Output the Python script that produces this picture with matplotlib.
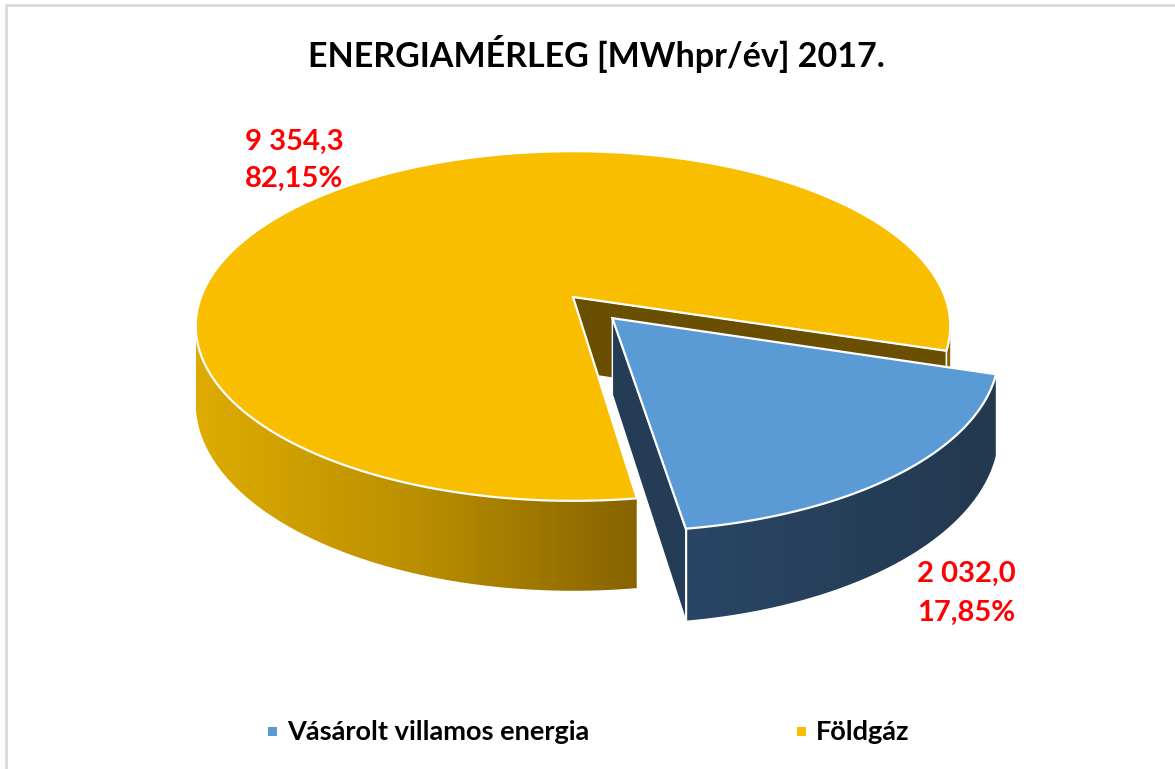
import numpy as np
import matplotlib
matplotlib.use('Agg')
import matplotlib.pyplot as plt
from matplotlib.patches import Polygon, Rectangle
from matplotlib.colors import to_rgb

# data
categories = ['Vásárolt villamos energia', 'Földgáz']
values = [2032.0, 9354.3]
top_colors = ['#5B9BD5', '#F9BE00']
cut_colors = ['#243C56', '#6B4F00']
side_colors = [['#2A4665', '#22394F'], ['#DEAC00', '#BA8F00', '#876300']]
explode = [0.16, 0.0]
title = 'ENERGIAMÉRLEG [MWhpr/év] 2017.'

# 3d pie geometry (pixel space)
start_angle = -17.5
cx, cy = 573, 297
A, B, k, H = 372, 170, 0.166, 75
cam = np.array([0.0, -1.0 / k])


def proj(X, D, h=0.0):
    w = 1 + k * D
    return cx + A * X / w, cy - B * D / w + h * H / w


def fmt_val(v):
    return f'{v:,.1f}'.replace(',', ' ').replace('.', ',')


def grad_img(stops, n=256):
    cols = [np.array(to_rgb(c)) for c in stops]
    pos = np.linspace(0, 1, len(cols))
    t = np.linspace(0, 1, n)
    row = np.stack([np.interp(t, pos, [c[j] for c in cols]) for j in range(3)], axis=1)
    return row[np.newaxis, :, :]


def runs(mask):
    out, cur = [], []
    for j, m in enumerate(mask):
        if m:
            cur.append(j)
        elif cur:
            out.append(cur)
            cur = []
    if cur:
        out.append(cur)
    return out


def draw_slice(ax, t_ccw, t_cw, ex, i):
    mid = np.radians((t_ccw + t_cw) / 2)
    o = np.array([np.cos(mid), np.sin(mid)]) * ex
    ts = np.radians(np.linspace(t_cw, t_ccw, 400))
    rim = np.stack([o[0] + np.cos(ts), o[1] + np.sin(ts)], axis=1)

    # cut faces
    for t, sgn in [(t_cw, -1), (t_ccw, 1)]:
        a = np.radians(t)
        n = sgn * np.array([-np.sin(a), np.cos(a)])
        p = o + 0.5 * np.array([np.cos(a), np.sin(a)])
        if np.dot(cam - p, n) > 0:
            e = o + np.array([np.cos(a), np.sin(a)])
            pts = [proj(o[0], o[1]), proj(e[0], e[1]), proj(e[0], e[1], 1), proj(o[0], o[1], 1)]
            ax.add_patch(Polygon(pts, closed=True, fc=cut_colors[i], ec='white', lw=1.0, zorder=2))

    # outer side, filled with a horizontal gradient
    vis = [np.dot(cam - rim[j], rim[j] - o) > 0 for j in range(len(rim))]
    segs = runs(vis)
    main = max(segs, key=len) if segs else []
    for seg in segs:
        top = [proj(*rim[j]) for j in seg]
        bot = [proj(*rim[j], 1) for j in reversed(seg)]
        poly = Polygon(top + bot, closed=True, fc='none', ec='none', zorder=2)
        ax.add_patch(poly)
        allpts = np.array(top + bot)
        ref = [proj(*rim[j]) for j in main]
        x0 = min(p[0] for p in ref)
        x1 = max(p[0] for p in ref)
        img = ax.imshow(grad_img(side_colors[i]), extent=(x0, x1, allpts[:, 1].max() + 2, allpts[:, 1].min() - 2),
                        aspect='auto', interpolation='bilinear', zorder=2)
        if seg is not main:
            img.set_extent((allpts[:, 0].min() - 2, allpts[:, 0].max() + 2,
                            allpts[:, 1].max() + 2, allpts[:, 1].min() - 2))
            img.set_data(grad_img([side_colors[i][-1], side_colors[i][-1]]))
        img.set_clip_path(poly)
        # white corner lines at ends of the side
        for j in [seg[0], seg[-1]]:
            if j in (0, len(rim) - 1):
                ax.plot(*zip(proj(*rim[j]), proj(*rim[j], 1)), color='white', lw=1.0, zorder=3)

    # top face
    pts = [proj(o[0], o[1])] + [proj(*p) for p in rim]
    ax.add_patch(Polygon(pts, closed=True, fc=top_colors[i], ec='white', lw=1.6, zorder=4))


fig = plt.figure(figsize=(11.75, 7.69), dpi=100)
ax = fig.add_axes([0, 0, 1, 1])
ax.axis('off')

total = sum(values)
fracs = [v / total for v in values]
angles = []
a = start_angle
for f in fracs:
    angles.append((a, a - f * 360))
    a -= f * 360

# back slice first, exploded front slice last
for i in [1, 0]:
    draw_slice(ax, angles[i][0], angles[i][1], explode[i], i)

font = 'Lato'
ax.text(596, 67, title, ha='center', va='baseline', fontsize=24.5, fontweight='bold',
        family=font, color='black')

label_pos = [(917, 582, 621), (245, 150, 187)]
for i, (lx, ly1, ly2) in enumerate(label_pos):
    ax.text(lx, ly1, fmt_val(values[i]), ha='left', va='baseline', fontsize=21,
            fontweight='bold', family=font, color='#FF0000', zorder=6)
    ax.text(lx, ly2, f'{fracs[i] * 100:.2f}%'.replace('.', ','), ha='left', va='baseline',
            fontsize=21, fontweight='bold', family=font, color='#FF0000', zorder=6)

# legend
leg_x = [268, 797]
for i, lx in enumerate(leg_x):
    ax.add_patch(Rectangle((lx, 727), 9, 9, fc=top_colors[i], ec='none'))
    ax.text(lx + 19, 740, categories[i], ha='left', va='baseline', fontsize=19.5,
            fontweight='bold', family=font, color='black')

# chart border
ax.plot([6, 6, 1175], [769, 5, 5], color='#D9D9D9', lw=2.0)

ax.set_xlim(0, 1175)
ax.set_ylim(769, 0)
fig.savefig('out.png', dpi=100)
